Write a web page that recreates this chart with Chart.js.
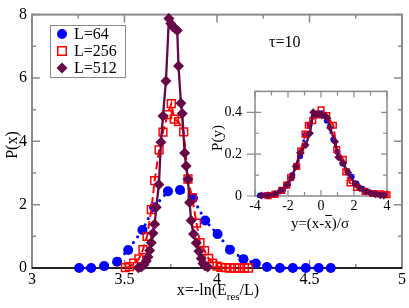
<!DOCTYPE html>
<html>
<head>
<meta charset="utf-8">
<script src="https://cdn.jsdelivr.net/npm/chart.js@4.4.1/dist/chart.umd.min.js"></script>
<style>
  html, body { margin: 0; padding: 0; background: #fff; }
  #wrap { position: relative; width: 409px; height: 308px; overflow: hidden; }
  #main { position: absolute; left: 0; top: 0; }
  #inset { position: absolute; left: 200px; top: 70px; }
</style>
</head>
<body>
<div id="wrap">
  <canvas id="main" width="409" height="308"></canvas>
  <canvas id="inset" width="200" height="168"></canvas>
</div>
<script>
/* P(x) for three system sizes, tau = 10, with scaled-collapse inset */

const SERIF = "'Liberation Serif', 'Times New Roman', serif";
const BLUE = '#0000ff', RED = '#ff0000', MAROON = '#670748', FRAME = '#8a8a8a';

// ── Data ────────────────────────────────────────────────────────────────────

const seriesNames = ['L=64', 'L=256', 'L=512'];

// main panel: x = -ln(E_res/L), P(x)
const x64 = [3.255, 3.32, 3.39, 3.46, 3.52, 3.597, 3.66, 3.735, 3.80, 3.87, 3.936,
  4.003, 4.07, 4.143, 4.21, 4.27, 4.34, 4.41, 4.48, 4.55, 4.615];
const p64 = [0.0, 0.0, 0.06, 0.2, 0.57, 1.2, 1.92, 2.42, 2.46, 2.2, 1.5,
  1.07, 0.58, 0.28, 0.14, 0.03, 0.0, 0.0, 0.0, 0.0, 0.0];

const x256 = [3.505, 3.527, 3.55, 3.578, 3.60, 3.622, 3.645, 3.663, 3.687, 3.708,
  3.733, 3.753, 3.769, 3.792, 3.82, 3.843, 3.866, 3.889, 3.908, 3.933,
  3.955, 3.975, 4.0, 4.022, 4.047, 4.07, 4.096, 4.12, 4.148, 4.17];
const p256 = [0.01, 0.04, 0.15, 0.29, 0.58, 1.0, 1.84, 2.76, 3.73, 4.29,
  4.84, 5.19, 4.7, 4.62, 4.3, 2.81, 2.22, 1.42, 0.8, 0.55,
  0.3, 0.15, 0.06, 0.02, 0.01, 0.0, 0.0, 0.0, 0.0, 0.0];

const x512 = [3.575, 3.59, 3.605, 3.618, 3.627, 3.636, 3.645, 3.654, 3.663, 3.672,
  3.686, 3.697, 3.708, 3.724, 3.74, 3.75, 3.762, 3.775, 3.785, 3.792,
  3.805, 3.812, 3.825, 3.833, 3.843, 3.852, 3.86, 3.873, 3.888, 3.902,
  3.915, 3.924, 3.935, 3.95];
const p512 = [0.01, 0.03, 0.1, 0.22, 0.35, 0.55, 0.8, 1.1, 1.38, 1.92,
  2.64, 3.97, 4.8, 5.9, 7.88, 7.72, 7.62, 7.55, 7.5, 6.38,
  5.2, 4.88, 3.63, 3.22, 2.8, 2.07, 1.5, 1.07, 0.79, 0.53,
  0.3, 0.14, 0.07, 0.03];

// inset: y = (x - xbar)/sigma, P(y)
const y64 = [-3.7, -3.4, -3.0, -2.7, -2.3, -2.0, -1.74, -1.5, -1.27, -0.97, -0.7,
  -0.45, -0.2, 0.05, 0.35, 0.75, 1.0, 1.3, 1.6, 1.86, 2.15,
  2.5, 2.8, 3.1, 3.45, 3.77, 3.9];
const q64 = [0.002, 0.004, 0.006, 0.012, 0.03, 0.055, 0.1, 0.14, 0.19, 0.29, 0.34,
  0.38, 0.395, 0.395, 0.36, 0.27, 0.21, 0.155, 0.12, 0.092, 0.06,
  0.035, 0.02, 0.012, 0.008, 0.005, 0.003];

const y256 = [-3.2, -2.79, -2.38, -2.08, -1.84, -1.47, -1.23, -0.97, -0.77, -0.5,
  -0.26, 0.0, 0.35, 0.75, 0.95, 1.35, 1.5, 1.76, 2.16, 2.67,
  3.17, 3.58, 3.88, 4.0];
const q256 = [0.002, 0.008, 0.027, 0.052, 0.089, 0.141, 0.215, 0.296, 0.338, 0.36,
  0.388, 0.412, 0.385, 0.338, 0.222, 0.175, 0.115, 0.062, 0.041, 0.022,
  0.012, 0.01, 0.007, 0.006];

const y512 = [-3.6, -3.2, -2.8, -2.45, -2.08, -1.78, -1.53, -1.27, -0.93, -0.67,
  -0.47, -0.3, -0.1, 0.05, 0.24, 0.4, 0.55, 0.85, 1.05, 1.35,
  1.65, 2.06, 2.36, 2.7, 2.97, 3.3, 3.6, 3.8];
const q512 = [0.002, 0.004, 0.01, 0.025, 0.052, 0.089, 0.141, 0.207, 0.244, 0.3,
  0.4, 0.39, 0.392, 0.385, 0.385, 0.37, 0.326, 0.259, 0.185, 0.156,
  0.111, 0.059, 0.037, 0.022, 0.015, 0.008, 0.004, 0.002];

// tick positions
const mainXMajor = [3, 3.5, 4, 4.5, 5], mainXMinor = [3.25, 3.75, 4.25, 4.75];
const mainYMajor = [0, 2, 4, 6, 8], mainYMinor = [1, 3, 5, 7];
const insXMajor = [-4, -2, 0, 2, 4], insXMinor = [-3, -1, 1, 3];
const insYMajor = [0, 0.2, 0.4], insYMinor = [0.1, 0.3, 0.5];

// ── Helpers ─────────────────────────────────────────────────────────────────

function pts(xs, ys) { return xs.map((x, i) => ({ x, y: ys[i] })); }

function setTicks(values) {
  return scale => { scale.ticks = values.map(v => ({ value: v })); };
}

function line(ctx, x1, y1, x2, y2) { ctx.moveTo(x1, y1); ctx.lineTo(x2, y2); }

// inward tick marks on all four sides, plus the frame
function frameAndTicks(chart, t) {
  const { ctx, chartArea: a, scales } = chart;
  const sx = scales.x, sy = scales.y;
  ctx.save();
  ctx.strokeStyle = FRAME;
  ctx.lineWidth = t.tickWidth;
  ctx.beginPath();
  const xt = (vals, len) => vals.forEach(v => {
    const p = sx.getPixelForValue(v);
    line(ctx, p, a.bottom, p, a.bottom - len);
    line(ctx, p, a.top, p, a.top + len);
  });
  const yt = (vals, len, out) => vals.forEach(v => {
    const p = sy.getPixelForValue(v);
    line(ctx, a.left - out, p, a.left + len, p);
    line(ctx, a.right, p, a.right - len, p);
  });
  xt(t.xMajor, t.major); xt(t.xMinor, t.minor);
  yt(t.yMajor, t.major, t.outMajor || 0); yt(t.yMinor, t.minor, 0);
  ctx.stroke();
  ctx.lineWidth = t.frameWidth;
  ctx.strokeRect(a.left, a.top, a.right - a.left, a.bottom - a.top);
  ctx.restore();
}

function marker(ctx, style, x, y, r, color) {
  ctx.save();
  ctx.beginPath();
  if (style === 'circle') {
    ctx.arc(x, y, r, 0, Math.PI * 2);
    ctx.fillStyle = color; ctx.fill();
  } else if (style === 'rect') {
    const s = r * Math.SQRT1_2;
    ctx.rect(x - s, y - s, 2 * s, 2 * s);
    ctx.strokeStyle = color; ctx.lineWidth = 1.5; ctx.stroke();
  } else {
    ctx.moveTo(x, y - r); ctx.lineTo(x + r, y); ctx.lineTo(x, y + r); ctx.lineTo(x - r, y);
    ctx.closePath();
    ctx.fillStyle = color; ctx.fill();
  }
  ctx.restore();
}

function dsets(xa, ya, xb, yb, xc, yc, r) {
  return [
    {
      label: seriesNames[0], data: pts(xa, ya), order: 2, clip: false,
      showLine: true, borderColor: BLUE, borderWidth: 3, borderDash: [0.1, 7],
      borderCapStyle: 'round', backgroundColor: BLUE,
      pointStyle: 'circle', pointRadius: r[0], pointBorderWidth: 0,
    },
    {
      label: seriesNames[1], data: pts(xb, yb), order: 1, clip: false,
      showLine: true, borderColor: RED, borderWidth: 2, borderDash: [8, 4],
      backgroundColor: 'rgba(0,0,0,0)', pointBorderColor: RED,
      pointStyle: 'rect', pointRadius: r[1], pointBorderWidth: 1.5,
    },
    {
      label: seriesNames[2], data: pts(xc, yc), order: 0, clip: false,
      showLine: true, borderColor: MAROON, borderWidth: 2.3,
      backgroundColor: MAROON, pointBorderColor: MAROON,
      pointStyle: 'rectRot', pointRadius: r[2], pointBorderWidth: 0,
    },
  ];
}

function axis(min, max, ticks, font, pad, size, horizontal) {
  return {
    type: 'linear', min, max,
    afterBuildTicks: setTicks(ticks),
    afterFit: s => { if (horizontal) s.height = size; else s.width = size; },
    grid: { display: false, drawTicks: false },
    border: { display: false },
    ticks: {
      color: '#000', font: { family: SERIF, size: font }, padding: pad,
      maxRotation: 0, autoSkip: false, callback: v => String(v),
    },
  };
}

const common = {
  type: 'scatter',
  options: {
    responsive: false, animation: false,
    plugins: { legend: { display: false }, tooltip: { enabled: false } },
  },
};

// ── Main panel ──────────────────────────────────────────────────────────────

const mainDecor = {
  id: 'mainDecor',
  beforeDatasetsDraw(chart) {
    frameAndTicks(chart, {
      xMajor: mainXMajor, xMinor: mainXMinor, yMajor: mainYMajor, yMinor: mainYMinor,
      major: 8, minor: 4, tickWidth: 1.5, frameWidth: 2,
    });
    const { ctx, chartArea: a } = chart;
    const y0 = chart.scales.y.getPixelForValue(0);
    ctx.save();
    ctx.strokeStyle = '#000'; ctx.lineWidth = 1.5;
    ctx.beginPath(); line(ctx, a.left, y0, a.right, y0); ctx.stroke();
    ctx.restore();
  },
  afterDraw(chart) {
    const { ctx } = chart;
    ctx.save();
    ctx.fillStyle = '#000';
    ctx.textBaseline = 'alphabetic';

    // legend box
    ctx.fillStyle = '#fff';
    ctx.fillRect(50, 25, 75, 52);
    ctx.strokeStyle = FRAME; ctx.lineWidth = 1;
    ctx.strokeRect(50.5, 25.5, 75, 52);
    const styles = [['circle', 5, BLUE], ['rect', 6, RED], ['rectRot', 5.5, MAROON]];
    ctx.font = `16px ${SERIF}`;
    styles.forEach(([st, r, c], i) => {
      const y = 34 + i * 17;
      marker(ctx, st, 62, y, r, c);
      ctx.fillStyle = '#000';
      ctx.fillText(seriesNames[i], 74, y + 5);
    });

    // tau label
    ctx.fillText('\u03c4=10', 269, 47);

    // y title
    ctx.save();
    ctx.translate(17, 145);
    ctx.rotate(-Math.PI / 2);
    ctx.textAlign = 'center';
    ctx.fillText('P(x)', 0, 0);
    ctx.restore();

    // x title with subscript
    const a = 'x=-ln(E', b = 'res', c = '/L)';
    ctx.font = `16px ${SERIF}`;
    const wa = ctx.measureText(a).width, wc = ctx.measureText(c).width;
    ctx.font = `11px ${SERIF}`;
    const wb = ctx.measureText(b).width;
    let x = 218 - (wa + wb + wc) / 2;
    ctx.font = `16px ${SERIF}`;
    ctx.fillText(a, x, 295); x += wa;
    ctx.font = `11px ${SERIF}`;
    ctx.fillText(b, x, 300); x += wb;
    ctx.font = `16px ${SERIF}`;
    ctx.fillText(c, x, 295);
    ctx.restore();
  },
};

new Chart(document.getElementById('main'), {
  ...common,
  data: { datasets: dsets(x64, p64, x256, p256, x512, p512, [5, 5.5, 5.5]) },
  options: {
    ...common.options,
    layout: { padding: { top: 8, right: 6, left: 0, bottom: 0 } },
    scales: {
      x: axis(3, 5, mainXMajor, 16, 2, 40, true),
      y: axis(0, 8, mainYMajor, 16, 5, 32, false),
    },
  },
  plugins: [mainDecor],
});

// ── Inset ───────────────────────────────────────────────────────────────────

const insetDecor = {
  id: 'insetDecor',
  beforeDatasetsDraw(chart) {
    const { ctx, chartArea: a } = chart;
    ctx.save();
    ctx.fillStyle = '#fff';
    ctx.fillRect(a.left, a.top, a.right - a.left, a.bottom - a.top);
    ctx.restore();
    frameAndTicks(chart, {
      xMajor: insXMajor, xMinor: insXMinor, yMajor: insYMajor, yMinor: insYMinor,
      major: 6, minor: 4, outMajor: 8, tickWidth: 1.2, frameWidth: 1.5,
    });
  },
  afterDraw(chart) {
    const { ctx } = chart;
    ctx.save();
    ctx.fillStyle = '#000';
    ctx.font = `15px ${SERIF}`;

    ctx.save();
    ctx.translate(22, 68);
    ctx.rotate(-Math.PI / 2);
    ctx.textAlign = 'center';
    ctx.fillText('P(y)', 0, 0);
    ctx.restore();

    // y=(x-x̄)/σ with an overbar on the second x
    const a = 'y=(x-', b = 'x', c = ')/\u03c3';
    const wa = ctx.measureText(a).width, wb = ctx.measureText(b).width,
      wc = ctx.measureText(c).width;
    let x = 120 - (wa + wb + wc) / 2;
    ctx.fillText(a, x, 158); x += wa;
    ctx.fillText(b, x, 158);
    ctx.strokeStyle = '#000'; ctx.lineWidth = 1;
    ctx.beginPath(); line(ctx, x + 1, 145.5, x + wb, 145.5); ctx.stroke();
    x += wb;
    ctx.fillText(c, x, 158);
    ctx.restore();
  },
};

new Chart(document.getElementById('inset'), {
  ...common,
  data: { datasets: dsets(y64, q64, y256, q256, y512, q512, [3, 4, 4]) },
  options: {
    ...common.options,
    layout: { padding: { top: 11, right: 13, left: 0, bottom: 0 } },
    scales: {
      x: axis(-4, 4, insXMajor, 14, 2, 42, true),
      y: axis(0, 0.5, insYMajor, 14, 13, 55, false),
    },
  },
  plugins: [insetDecor],
});
</script>
</body>
</html>
